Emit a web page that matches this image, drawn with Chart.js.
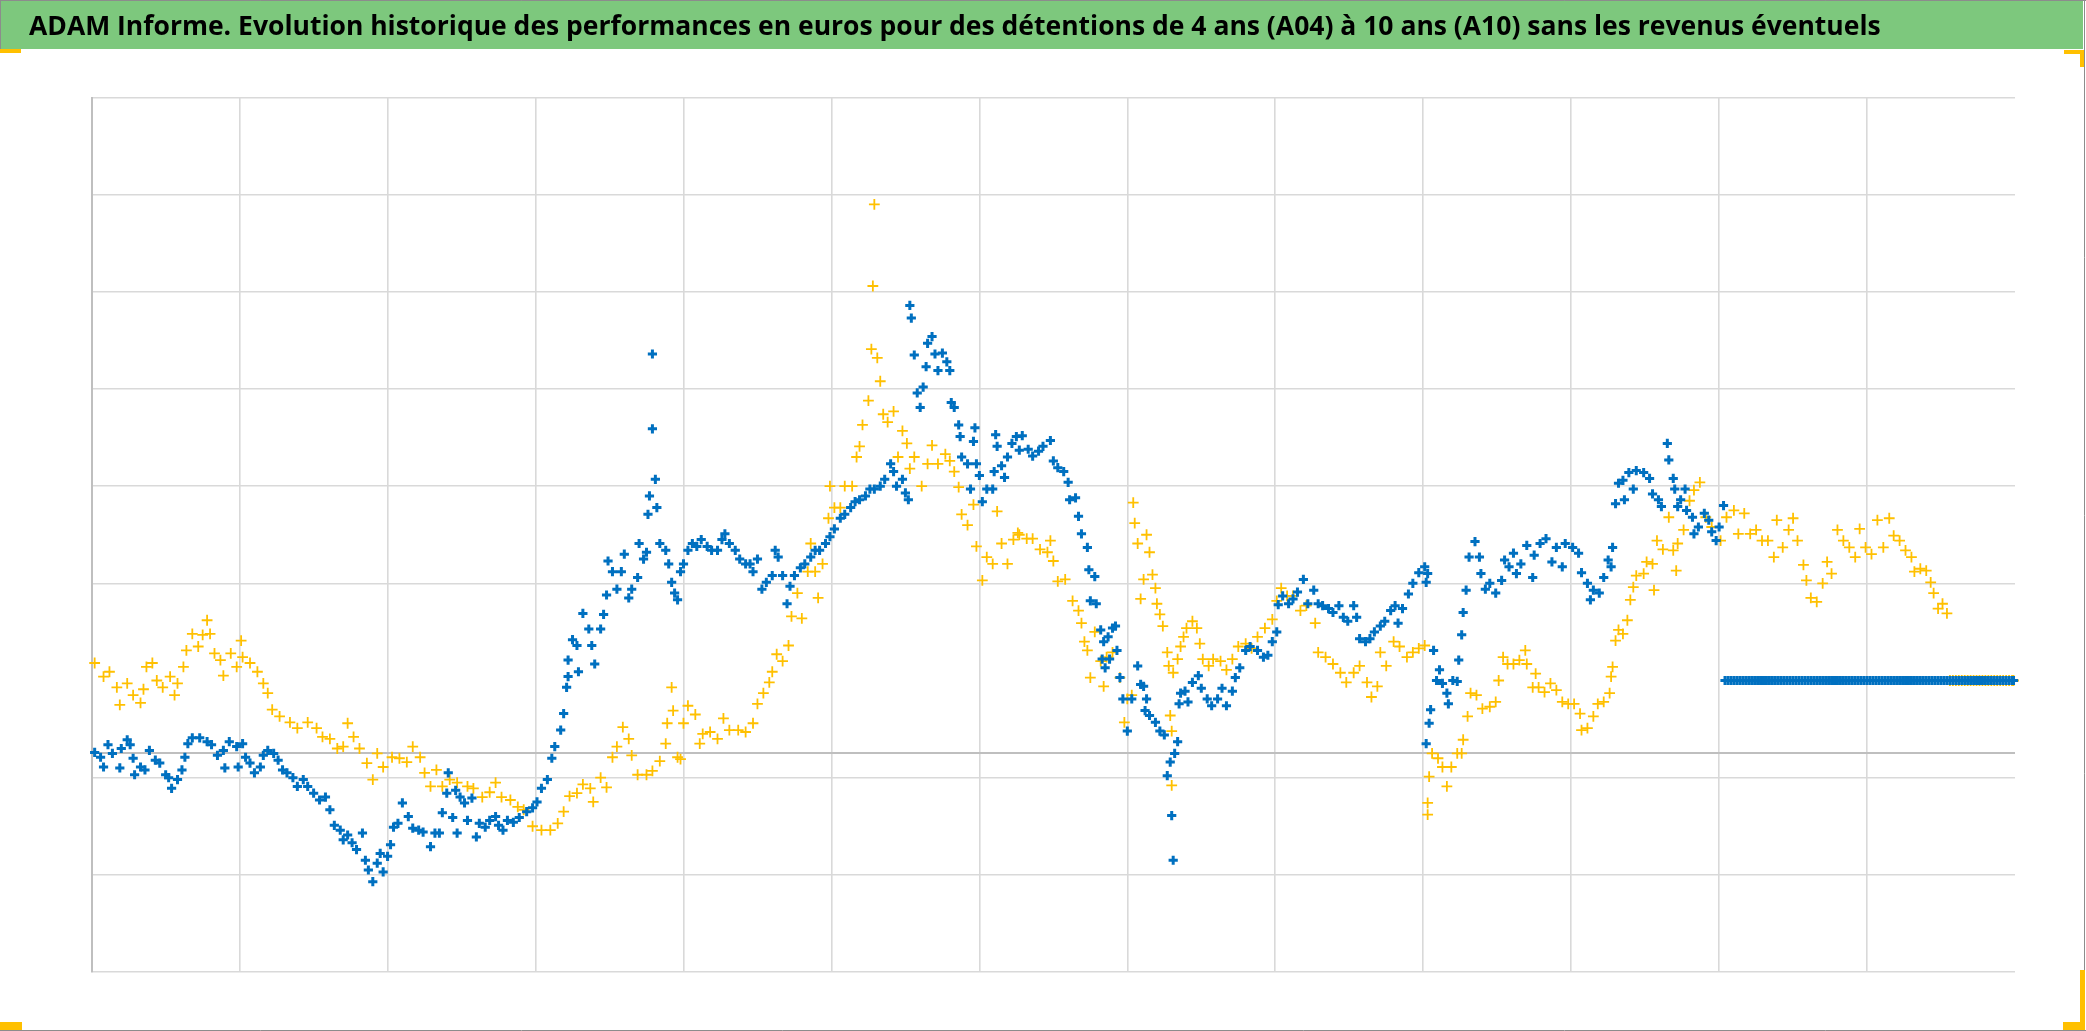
<!DOCTYPE html>
<html>
<head>
<meta charset="utf-8">
<script src="https://cdn.jsdelivr.net/npm/chart.js@4.4.0/dist/chart.umd.min.js"></script>
<style>
html,body{margin:0;padding:0;background:#ffffff;overflow:hidden}
canvas{display:block}
</style>
</head>
<body>
<canvas id="c" width="2086" height="1031"></canvas>
<script>
// ---------- text ----------
const titleText = "ADAM Informe. Evolution historique des performances en euros pour des détentions de 4 ans (A04) à 10 ans (A10) sans les revenus éventuels";

// ---------- axes (no labels are shown in the reference) ----------
const xMin = 0, xMax = 13;                      // 13 periods on the horizontal axis
const xGridValues = [0,1,2,3,4,5,6,7,8,9,10,11,12];
const yMin = -22.5, yMax = 67.5;
const yGridValues = [-22.5,-12.5,-2.5,0,17.5,27.5,37.5,47.5,57.5,67.5];
const yZero = 0;

// ---------- series: [x, value] ----------
const a04Points = [ // yellow
[0.02,9.3],[0.08,7.9],[0.12,8.4],[0.17,6.8],[0.19,5.0],[0.24,7.2],[0.28,6.0],[0.33,5.2],[0.35,6.6],[0.37,8.9],[0.41,9.3],[0.44,7.5],[0.48,6.8],[0.53,7.9],[0.56,6.0],[0.58,7.2],[0.62,8.9],[0.64,10.6],[0.68,12.3],[0.72,11.0],[0.75,12.2],[0.78,13.7],[0.80,12.3],[0.83,10.3],[0.87,9.6],[0.89,8.0],[0.94,10.3],[0.98,8.9],[1.01,11.6],[1.02,9.9],[1.07,9.3],[1.12,8.4],[1.16,7.2],[1.19,6.2],[1.22,4.5],[1.27,3.8],[1.34,3.2],[1.39,2.6],[1.46,3.2],[1.52,2.6],[1.56,1.7],[1.61,1.5],[1.66,0.5],[1.70,0.7],[1.73,3.1],[1.77,1.7],[1.81,0.5],[1.86,-1.0],[1.90,-2.7],[1.93,0.0],[1.97,-1.4],[2.03,-0.4],[2.08,-0.5],[2.13,-0.9],[2.17,0.7],[2.22,-0.4],[2.25,-2.0],[2.29,-3.4],[2.33,-1.7],[2.37,-3.4],[2.42,-2.7],[2.47,-3.0],[2.54,-3.4],[2.58,-3.6],[2.64,-4.5],[2.69,-4.0],[2.73,-3.0],[2.77,-4.5],[2.83,-4.8],[2.88,-5.5],[2.92,-5.8],[2.98,-7.5],[3.04,-7.9],[3.10,-7.9],[3.15,-7.2],[3.19,-6.0],[3.23,-4.4],[3.28,-4.1],[3.32,-3.2],[3.37,-3.6],[3.39,-5.0],[3.44,-2.5],[3.48,-3.5],[3.52,-0.4],[3.55,0.7],[3.59,2.7],[3.63,1.5],[3.65,-0.2],[3.69,-2.2],[3.75,-2.2],[3.79,-1.8],[3.84,-0.8],[3.88,1.0],[3.89,3.1],[3.92,6.8],[3.93,4.4],[3.96,-0.4],[3.98,-0.6],[4.00,3.1],[4.03,4.9],[4.08,4.0],[4.11,1.0],[4.13,2.0],[4.18,2.2],[4.23,1.5],[4.27,3.6],[4.31,2.4],[4.37,2.4],[4.42,2.2],[4.47,3.1],[4.50,5.1],[4.54,6.2],[4.58,7.3],[4.60,8.4],[4.63,10.2],[4.67,9.5],[4.71,11.1],[4.73,14.1],[4.77,16.5],[4.80,13.9],[4.84,18.7],[4.86,21.6],[4.89,18.7],[4.91,16.0],[4.94,19.5],[4.98,24.2],[4.99,27.5],[5.02,25.3],[5.06,25.3],[5.09,27.5],[5.14,27.5],[5.17,30.5],[5.19,31.6],[5.21,33.8],[5.25,36.3],[5.27,41.6],[5.28,48.1],[5.29,56.5],[5.31,40.7],[5.33,38.3],[5.35,34.9],[5.38,34.1],[5.42,35.2],[5.45,30.5],[5.48,33.2],[5.51,31.9],[5.53,29.3],[5.56,30.5],[5.61,27.5],[5.65,29.8],[5.68,31.7],[5.72,29.8],[5.77,30.8],[5.80,30.1],[5.83,29.0],[5.86,27.4],[5.88,24.6],[5.92,23.5],[5.96,25.6],[5.98,21.3],[6.02,17.8],[6.05,20.2],[6.09,19.5],[6.12,24.9],[6.15,21.6],[6.19,19.5],[6.23,22.0],[6.26,22.7],[6.27,22.5],[6.32,22.1],[6.36,22.1],[6.41,21.0],[6.46,20.7],[6.48,21.9],[6.50,19.8],[6.53,17.7],[6.58,17.9],[6.63,15.7],[6.67,14.7],[6.69,13.4],[6.71,11.5],[6.73,10.6],[6.75,7.8],[6.78,12.5],[6.82,9.5],[6.84,6.9],[6.86,9.9],[6.90,10.4],[6.95,7.8],[6.98,3.2],[7.00,5.6],[7.03,6.0],[7.04,25.8],[7.05,23.7],[7.07,21.6],[7.09,15.9],[7.11,17.9],[7.13,22.5],[7.15,20.7],[7.17,18.4],[7.19,17.0],[7.20,15.4],[7.22,14.3],[7.24,13.1],[7.27,10.4],[7.28,9.0],[7.29,3.9],[7.30,2.3],[7.30,-3.3],[7.31,8.3],[7.34,9.7],[7.36,11.0],[7.38,12.0],[7.40,12.9],[7.44,13.6],[7.47,12.9],[7.49,11.3],[7.51,9.7],[7.55,9.0],[7.58,9.7],[7.63,9.5],[7.67,8.6],[7.71,9.7],[7.75,11.0],[7.80,11.3],[7.84,10.8],[7.88,12.0],[7.93,12.9],[7.98,13.8],[8.01,15.7],[8.04,17.0],[8.08,16.2],[8.12,16.2],[8.17,14.7],[8.21,15.2],[8.27,13.4],[8.29,10.4],[8.34,9.9],[8.39,9.2],[8.44,8.3],[8.48,7.3],[8.53,8.3],[8.57,9.0],[8.62,7.3],[8.65,5.8],[8.69,6.9],[8.71,10.4],[8.75,9.0],[8.80,11.5],[8.84,11.0],[8.89,9.9],[8.93,10.4],[8.97,10.8],[9.01,11.1],[9.03,-6.3],[9.03,-5.1],[9.04,-2.4],[9.06,0.0],[9.10,-0.5],[9.13,-1.4],[9.16,-3.4],[9.19,-1.4],[9.23,0.0],[9.26,0.0],[9.27,1.4],[9.30,3.8],[9.32,6.2],[9.36,6.0],[9.40,4.6],[9.45,4.8],[9.49,5.3],[9.51,7.5],[9.54,9.9],[9.57,9.2],[9.61,9.2],[9.65,9.6],[9.69,10.6],[9.70,9.2],[9.74,6.8],[9.76,8.2],[9.78,6.8],[9.82,6.3],[9.86,7.2],[9.90,6.5],[9.94,5.3],[9.98,5.1],[10.02,5.1],[10.06,4.1],[10.07,2.4],[10.11,2.6],[10.15,3.8],[10.18,5.1],[10.22,5.3],[10.26,6.2],[10.27,7.9],[10.28,8.9],[10.30,11.6],[10.32,12.7],[10.35,12.3],[10.38,13.7],[10.40,15.8],[10.42,17.1],[10.44,18.3],[10.49,18.5],[10.51,19.7],[10.55,19.5],[10.56,16.8],[10.58,21.9],[10.62,21.0],[10.66,24.3],[10.69,20.9],[10.71,18.8],[10.72,21.6],[10.76,23.0],[10.80,26.0],[10.83,27.1],[10.87,27.9],[10.91,24.3],[10.95,23.3],[11.01,21.9],[11.05,24.3],[11.10,25.0],[11.13,22.6],[11.17,24.7],[11.21,22.6],[11.25,23.0],[11.29,21.9],[11.33,21.9],[11.37,20.2],[11.39,24.0],[11.43,21.2],[11.47,23.0],[11.50,24.2],[11.53,21.9],[11.57,19.4],[11.59,17.8],[11.62,16.0],[11.66,15.6],[11.70,17.5],[11.73,19.7],[11.76,18.5],[11.80,23.0],[11.84,21.9],[11.88,21.2],[11.92,20.2],[11.95,23.1],[11.99,21.2],[12.03,20.5],[12.07,24.0],[12.11,21.2],[12.15,24.2],[12.18,22.4],[12.22,21.9],[12.26,20.9],[12.30,20.2],[12.32,18.7],[12.36,19.0],[12.40,18.8],[12.43,17.6],[12.45,16.5],[12.48,14.9],[12.51,15.4],[12.54,14.4],
[12.56,7.5],[12.58,7.5],[12.60,7.5],[12.62,7.5],[12.64,7.5],[12.66,7.5],[12.68,7.5],[12.70,7.5],[12.72,7.5],[12.74,7.5],[12.76,7.5],[12.78,7.5],[12.80,7.5],[12.82,7.5],[12.84,7.5],[12.86,7.5],[12.88,7.5],[12.90,7.5],[12.92,7.5],[12.94,7.5],[12.96,7.5],[12.98,7.5],[12.99,7.5]
];

const a10Points = [ // blue
[0.02,0.1],[0.06,-0.4],[0.08,-1.4],[0.11,0.9],[0.14,0.0],[0.19,-1.5],[0.20,0.5],[0.24,1.4],[0.26,0.9],[0.28,-0.5],[0.29,-2.2],[0.33,-1.4],[0.36,-1.7],[0.39,0.3],[0.43,-0.7],[0.46,-1.0],[0.50,-2.2],[0.52,-2.5],[0.54,-3.6],[0.58,-2.7],[0.61,-1.7],[0.63,-0.4],[0.65,1.0],[0.68,1.6],[0.73,1.6],[0.78,1.2],[0.81,0.9],[0.85,-0.2],[0.89,0.3],[0.90,-1.5],[0.93,1.2],[0.98,0.7],[0.99,-1.4],[1.02,1.0],[1.04,-0.4],[1.07,-1.0],[1.10,-2.0],[1.14,-1.4],[1.16,-0.2],[1.19,0.3],[1.23,0.0],[1.26,-0.7],[1.29,-1.7],[1.32,-2.0],[1.36,-2.5],[1.39,-3.4],[1.43,-2.7],[1.46,-3.4],[1.50,-4.1],[1.54,-4.8],[1.58,-4.5],[1.61,-5.8],[1.64,-7.4],[1.68,-7.9],[1.70,-8.9],[1.73,-8.4],[1.76,-9.2],[1.79,-9.9],[1.83,-8.2],[1.85,-11.0],[1.87,-12.0],[1.90,-13.2],[1.93,-11.3],[1.95,-10.3],[1.97,-12.2],[2.00,-10.6],[2.02,-9.4],[2.04,-7.6],[2.07,-7.2],[2.10,-5.1],[2.14,-6.5],[2.17,-7.7],[2.21,-7.9],[2.24,-8.1],[2.29,-9.6],[2.32,-8.2],[2.35,-8.2],[2.37,-6.1],[2.40,-4.1],[2.41,-2.0],[2.44,-6.6],[2.46,-3.8],[2.47,-8.2],[2.49,-4.5],[2.52,-5.1],[2.54,-6.9],[2.57,-4.6],[2.60,-8.6],[2.62,-7.2],[2.66,-7.6],[2.69,-6.9],[2.73,-6.5],[2.75,-7.4],[2.78,-7.9],[2.81,-6.9],[2.85,-7.1],[2.89,-6.6],[2.94,-6.0],[2.98,-5.6],[3.01,-5.0],[3.04,-3.6],[3.08,-2.7],[3.11,-0.5],[3.13,0.7],[3.17,2.4],[3.19,4.1],[3.21,6.8],[3.22,7.9],[3.22,9.6],[3.25,11.7],[3.28,11.1],[3.29,8.4],[3.32,14.4],[3.36,12.8],[3.38,11.1],[3.40,9.2],[3.44,12.8],[3.46,14.3],[3.48,16.3],[3.49,19.8],[3.52,18.7],[3.55,16.9],[3.58,18.7],[3.60,20.5],[3.63,16.0],[3.65,16.9],[3.69,18.1],[3.70,21.6],[3.73,20.0],[3.75,20.7],[3.76,24.6],[3.77,26.5],[3.79,33.4],[3.79,41.1],[3.81,28.2],[3.82,25.3],[3.84,21.6],[3.88,20.9],[3.90,19.5],[3.92,17.6],[3.94,16.5],[3.96,15.8],[3.98,18.7],[4.00,19.5],[4.03,20.9],[4.06,21.6],[4.09,21.3],[4.12,22.0],[4.16,21.3],[4.19,20.9],[4.23,20.9],[4.26,22.0],[4.28,22.6],[4.31,21.6],[4.35,20.9],[4.38,20.0],[4.42,19.5],[4.45,19.5],[4.47,18.7],[4.50,20.0],[4.53,16.9],[4.56,17.6],[4.60,18.3],[4.62,20.9],[4.64,20.2],[4.67,18.3],[4.70,15.4],[4.72,17.2],[4.75,18.3],[4.79,19.1],[4.82,19.5],[4.86,20.2],[4.89,20.9],[4.92,20.9],[4.96,21.6],[4.99,22.3],[5.02,23.1],[5.06,24.2],[5.09,24.6],[5.13,25.3],[5.16,25.9],[5.19,26.1],[5.23,26.5],[5.26,27.2],[5.29,27.2],[5.33,27.5],[5.36,28.2],[5.40,29.8],[5.42,29.0],[5.44,27.5],[5.48,28.2],[5.50,26.8],[5.52,26.1],[5.53,46.1],[5.54,44.8],[5.56,41.0],[5.58,37.1],[5.60,35.6],[5.62,37.7],[5.64,39.8],[5.65,42.2],[5.68,42.9],[5.70,41.1],[5.72,39.4],[5.75,41.2],[5.78,40.3],[5.80,39.4],[5.81,36.1],[5.83,35.6],[5.86,33.8],[5.87,32.6],[5.88,30.5],[5.92,29.8],[5.94,27.2],[5.96,32.1],[5.97,33.5],[5.98,29.8],[6.00,28.6],[6.02,25.9],[6.05,27.2],[6.09,27.2],[6.10,29.0],[6.11,32.8],[6.12,31.6],[6.15,29.6],[6.17,28.4],[6.19,30.5],[6.22,31.9],[6.25,32.6],[6.27,31.2],[6.29,32.7],[6.33,31.3],[6.36,30.6],[6.40,31.1],[6.43,31.6],[6.48,32.2],[6.50,30.1],[6.53,29.4],[6.57,29.0],[6.60,27.9],[6.61,26.1],[6.65,26.3],[6.67,24.4],[6.69,22.6],[6.73,21.2],[6.74,18.9],[6.75,15.7],[6.78,18.2],[6.79,15.4],[6.82,12.7],[6.83,9.7],[6.84,11.5],[6.85,8.8],[6.87,12.0],[6.88,9.7],[6.90,12.9],[6.92,13.1],[6.93,10.6],[6.95,7.8],[6.97,5.6],[7.00,2.3],[7.03,5.6],[7.07,9.0],[7.09,7.1],[7.11,6.9],[7.12,4.4],[7.13,5.6],[7.15,3.9],[7.19,3.2],[7.22,2.3],[7.25,1.9],[7.27,-2.3],[7.29,-0.9],[7.30,-6.4],[7.31,-11.0],[7.32,0.0],[7.34,1.2],[7.35,5.1],[7.36,6.2],[7.39,6.4],[7.41,5.3],[7.44,7.3],[7.48,8.0],[7.50,6.7],[7.54,5.6],[7.57,4.9],[7.61,5.6],[7.64,6.7],[7.67,4.9],[7.71,6.4],[7.73,7.8],[7.76,8.8],[7.80,10.6],[7.83,11.0],[7.88,10.6],[7.92,9.9],[7.95,10.1],[7.98,11.5],[8.01,12.5],[8.02,15.3],[8.05,16.2],[8.09,15.4],[8.12,15.9],[8.15,16.6],[8.19,17.9],[8.22,15.4],[8.26,16.8],[8.29,15.4],[8.32,15.2],[8.36,14.9],[8.39,14.5],[8.43,15.2],[8.46,14.0],[8.49,13.6],[8.53,15.2],[8.55,14.0],[8.57,11.8],[8.61,11.5],[8.64,11.8],[8.67,12.5],[8.71,13.1],[8.74,13.6],[8.78,14.7],[8.81,15.2],[8.83,13.4],[8.86,14.9],[8.90,16.4],[8.93,17.5],[8.97,18.6],[9.01,19.2],[9.02,17.6],[9.03,18.5],[9.02,1.0],[9.04,3.1],[9.05,4.5],[9.07,10.6],[9.09,7.5],[9.11,8.6],[9.13,7.2],[9.16,6.2],[9.17,5.1],[9.20,7.5],[9.23,7.4],[9.24,9.6],[9.26,12.2],[9.27,14.5],[9.29,16.8],[9.31,20.2],[9.35,21.8],[9.38,20.2],[9.39,18.5],[9.42,16.9],[9.45,17.5],[9.49,16.5],[9.53,17.8],[9.55,19.9],[9.58,19.2],[9.61,20.6],[9.63,18.5],[9.66,19.5],[9.70,21.4],[9.74,18.1],[9.75,20.4],[9.79,21.6],[9.83,22.1],[9.87,19.7],[9.90,21.2],[9.94,19.2],[9.96,21.6],[10.01,21.2],[10.05,20.6],[10.07,18.6],[10.11,17.5],[10.13,15.8],[10.15,16.8],[10.19,16.5],[10.22,18.1],[10.25,19.9],[10.27,19.2],[10.28,21.2],[10.30,25.7],[10.32,27.8],[10.35,28.1],[10.36,26.1],[10.39,28.9],[10.42,27.2],[10.44,29.1],[10.49,28.9],[10.53,28.3],[10.55,26.7],[10.59,26.1],[10.61,25.4],[10.65,31.9],[10.66,30.2],[10.69,28.3],[10.70,27.2],[10.72,25.4],[10.74,26.1],[10.77,27.2],[10.78,25.0],[10.82,24.3],[10.83,22.6],[10.86,23.3],[10.90,24.7],[10.93,24.0],[10.95,22.8],[10.98,21.9],[11.00,23.3],[11.03,25.5],
[11.04,7.5],[11.06,7.5],[11.08,7.5],[11.10,7.5],[11.12,7.5],[11.14,7.5],[11.16,7.5],[11.18,7.5],[11.20,7.5],[11.22,7.5],[11.24,7.5],[11.26,7.5],[11.28,7.5],[11.30,7.5],[11.32,7.5],[11.34,7.5],[11.36,7.5],[11.38,7.5],[11.40,7.5],[11.42,7.5],[11.44,7.5],[11.46,7.5],[11.48,7.5],[11.50,7.5],[11.52,7.5],[11.54,7.5],[11.56,7.5],[11.58,7.5],[11.60,7.5],[11.62,7.5],[11.64,7.5],[11.66,7.5],[11.68,7.5],[11.70,7.5],[11.72,7.5],[11.74,7.5],[11.76,7.5],[11.78,7.5],[11.80,7.5],[11.82,7.5],[11.84,7.5],[11.86,7.5],[11.88,7.5],[11.90,7.5],[11.92,7.5],[11.94,7.5],[11.96,7.5],[11.98,7.5],[12.00,7.5],[12.02,7.5],[12.04,7.5],[12.06,7.5],[12.08,7.5],[12.10,7.5],[12.12,7.5],[12.14,7.5],[12.16,7.5],[12.18,7.5],[12.20,7.5],[12.22,7.5],[12.24,7.5],[12.26,7.5],[12.28,7.5],[12.30,7.5],[12.32,7.5],[12.34,7.5],[12.36,7.5],[12.38,7.5],[12.40,7.5],[12.42,7.5],[12.44,7.5],[12.46,7.5],[12.48,7.5],[12.50,7.5],[12.52,7.5],[12.54,7.5],[12.56,7.5],[12.58,7.5],[12.60,7.5],[12.62,7.5],[12.64,7.5],[12.66,7.5],[12.68,7.5],[12.70,7.5],[12.72,7.5],[12.74,7.5],[12.76,7.5],[12.78,7.5],[12.80,7.5],[12.82,7.5],[12.84,7.5],[12.86,7.5],[12.88,7.5],[12.90,7.5],[12.92,7.5],[12.94,7.5],[12.96,7.5],[12.98,7.5],[12.99,7.5]
];

// ---------- styling ----------
const COLOR_A10 = '#0070C0';
const COLOR_A04 = '#FFC000';
const GRID = '#D9D9D9';
const AXIS = '#BFBFBF';
const BAND = '#7DC87D';

// fit the title font to the reference width
const TITLE_FAMILY = '"Open Sans", "Noto Sans", "DejaVu Sans", sans-serif';
const TITLE_WIDTH = 1852;
const mctx = document.createElement('canvas').getContext('2d');
mctx.font = 'bold 30px ' + TITLE_FAMILY;
const titleSize = 30 * TITLE_WIDTH / mctx.measureText(titleText).width;
const titleLH = titleSize * 1.2;
const titleCenter = 27.5;
const plotTop = 97.5;
const titlePadTop = titleCenter - titleLH / 2;
const titlePadBottom = plotTop - titlePadTop - titleLH;

const decor = {
  id: 'decor',
  beforeDraw(chart) {
    const c = chart.ctx, W = chart.width, H = chart.height;
    c.save();
    c.fillStyle = '#ffffff';
    c.fillRect(0, 0, W, H);
    c.fillStyle = BAND;
    c.fillRect(0, 0, W - 3, 49);
    c.strokeStyle = '#8C8C8C';
    c.lineWidth = 1;
    c.beginPath();
    c.moveTo(0, 0.5); c.lineTo(W, 0.5);
    c.moveTo(0.5, 0); c.lineTo(0.5, 49);
    c.moveTo(W - 1.5, 0); c.lineTo(W - 1.5, H);
    c.moveTo(0, H - 0.5); c.lineTo(W, H - 0.5);
    c.stroke();
    c.fillStyle = COLOR_A04;
    c.fillRect(0, 49, 21, 4);
    c.fillRect(2064, 50, 20, 4);
    c.fillRect(2080, 50, 4, 17);
    c.fillRect(2080, 970, 5, 60);
    c.fillRect(2063, 1022, 22, 8);
    c.fillRect(0, 1022, 22, 8);
    c.restore();
  }
};

const toXY = p => ({ x: p[0], y: p[1] });

new Chart(document.getElementById('c'), {
  type: 'scatter',
  data: {
    datasets: [
      {
        label: 'A10',
        data: a10Points.map(toXY),
        order: 0,
        pointStyle: 'cross',
        pointRadius: 4.6,
        pointHoverRadius: 4.6,
        pointBorderWidth: 3,
        borderWidth: 3,
        pointBorderColor: COLOR_A10,
        borderColor: COLOR_A10,
        backgroundColor: COLOR_A10,
        clip: false
      },
      {
        label: 'A04',
        data: a04Points.map(toXY),
        order: 1,
        pointStyle: 'cross',
        pointRadius: 5.4,
        pointHoverRadius: 5.4,
        pointBorderWidth: 1.8,
        borderWidth: 1.8,
        pointBorderColor: COLOR_A04,
        borderColor: COLOR_A04,
        backgroundColor: COLOR_A04,
        clip: false
      }
    ]
  },
  options: {
    responsive: false,
    animation: false,
    devicePixelRatio: 1,
    events: [],
    layout: { padding: { left: 29, right: 71, top: 0, bottom: 59 } },
    plugins: {
      legend: { display: false },
      tooltip: { enabled: false },
      title: {
        display: true,
        text: titleText,
        align: 'start',
        color: '#000000',
        font: { family: TITLE_FAMILY, weight: 'bold', size: titleSize, lineHeight: 1.2 },
        padding: { top: titlePadTop, bottom: titlePadBottom }
      }
    },
    scales: {
      x: {
        type: 'linear',
        min: xMin, max: xMax,
        afterFit(s) { s.height = 0; },
        afterBuildTicks(s) { s.ticks = xGridValues.map(v => ({ value: v })); },
        ticks: { display: false },
        grid: {
          color: ctx => (ctx.tick && ctx.tick.value === xMin) ? 'rgba(0,0,0,0)' : GRID,
          lineWidth: 1.6,
          drawTicks: false
        },
        border: { display: false }
      },
      y: {
        type: 'linear',
        min: yMin, max: yMax,
        afterFit(s) { s.width = 62.7; },
        afterBuildTicks(s) { s.ticks = yGridValues.map(v => ({ value: v })); },
        ticks: { display: false },
        grid: {
          color: ctx => (ctx.tick && ctx.tick.value === yZero) ? AXIS : GRID,
          lineWidth: ctx => (ctx.tick && ctx.tick.value === yZero) ? 2 : 1.6,
          drawTicks: false
        },
        border: { display: true, color: AXIS, width: 2 }
      }
    }
  },
  plugins: [decor]
});
</script>
</body>
</html>
